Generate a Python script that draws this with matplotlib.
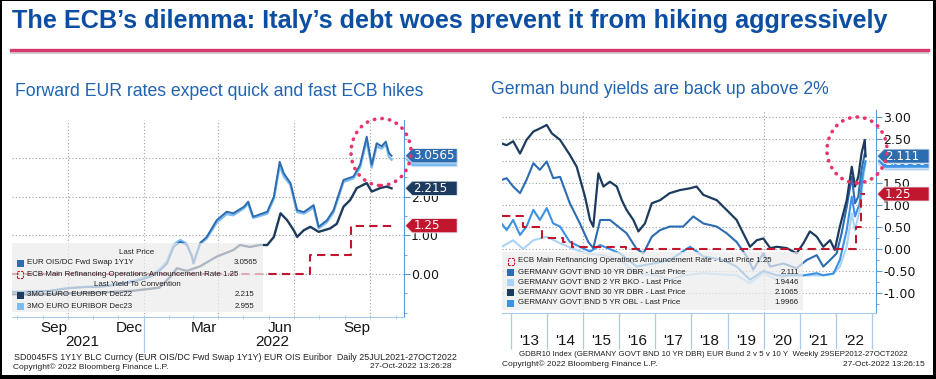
import numpy as np
import matplotlib
matplotlib.use('Agg')
import matplotlib.pyplot as plt
import matplotlib.dates as mdates
from matplotlib import font_manager as fm
from matplotlib.patches import Polygon, Rectangle, Ellipse
from matplotlib.lines import Line2D
from matplotlib.transforms import blended_transform_factory
from matplotlib.ticker import FixedLocator, FixedFormatter, MultipleLocator, FormatStrFormatter, NullFormatter


def pick(names):
    for n in names:
        try:
            fm.findfont(fm.FontProperties(family=n), fallback_to_default=False)
            return n
        except Exception:
            pass
    return 'DejaVu Sans'


NARROW = pick(['Liberation Sans Narrow', 'Liberation Sans'])
ARIAL = pick(['Liberation Sans', 'DejaVu Sans'])
SMALL = ARIAL

W, H = 937, 379

# ---- left chart data (daily, 25JUL2021-27OCT2022) ----
ois_dates = ['2021-07-26', '2021-08-21', '2021-09-10', '2021-10-01', '2021-10-21', '2021-11-10',
             '2021-11-30', '2021-12-20', '2022-01-09', '2022-01-21', '2022-01-29', '2022-02-06',
             '2022-02-14', '2022-02-22', '2022-02-28', '2022-03-02', '2022-03-10', '2022-03-18',
             '2022-03-30', '2022-04-11', '2022-04-19', '2022-05-02', '2022-05-07', '2022-05-13',
             '2022-05-30', '2022-06-07', '2022-06-14', '2022-06-19', '2022-06-27', '2022-07-05',
             '2022-07-13', '2022-07-25', '2022-07-31', '2022-08-10', '2022-08-18', '2022-08-30',
             '2022-09-11', '2022-09-19', '2022-09-27', '2022-10-03', '2022-10-09', '2022-10-15',
             '2022-10-20', '2022-10-24', '2022-10-27']
ois_1y1y = [-0.46, -0.45, -0.43, -0.37, -0.34, -0.33, -0.28, -0.20, -0.07, 0.10, 0.27, 0.70,
            0.83, 0.75, 0.45, 0.27, 0.80, 0.96, 1.39, 1.61, 1.57, 1.74, 1.87, 1.48,
            1.61, 2.00, 2.90, 2.60, 2.35, 1.65, 1.60, 1.78, 1.22, 1.39, 1.65, 2.43,
            2.52, 2.82, 3.55, 2.82, 3.38, 3.30, 3.42, 3.12, 3.0565]
euribor_dec23 = [-0.47, -0.46, -0.44, -0.36, -0.33, -0.31, -0.26, -0.17, -0.04, 0.14, 0.33, 0.76,
                 0.88, 0.78, 0.48, 0.30, 0.78, 0.92, 1.33, 1.55, 1.52, 1.70, 1.82, 1.45,
                 1.56, 1.95, 2.80, 2.52, 2.30, 1.60, 1.56, 1.72, 1.18, 1.34, 1.60, 2.38,
                 2.47, 2.76, 3.45, 2.75, 3.30, 3.24, 3.35, 3.02, 2.955]
dec22_dates = ['2021-07-26', '2021-08-21', '2021-10-01', '2021-11-10', '2021-12-20', '2022-01-09',
               '2022-01-20', '2022-02-03', '2022-02-10', '2022-02-22', '2022-03-10', '2022-03-30',
               '2022-04-19', '2022-04-27', '2022-05-09', '2022-05-21', '2022-05-30', '2022-06-07',
               '2022-06-15', '2022-06-23', '2022-07-01', '2022-07-05', '2022-07-13', '2022-07-21',
               '2022-07-31', '2022-08-14', '2022-08-22', '2022-08-30', '2022-09-07', '2022-09-15',
               '2022-09-27', '2022-10-03', '2022-10-13', '2022-10-21', '2022-10-27']
euribor_dec22 = [-0.52, -0.53, -0.50, -0.48, -0.43, -0.38, -0.35, -0.05, 0.15, 0.08, 0.20, 0.45,
                 0.62, 0.75, 0.70, 0.75, 0.75, 0.96, 1.57, 1.39, 1.13, 0.96, 1.13, 1.22,
                 1.09, 1.18, 1.30, 1.74, 1.91, 2.22, 2.35, 2.13, 2.22, 2.26, 2.215]
ecb_left_dates = ['2021-07-25', '2022-07-21', '2022-09-08', '2022-10-27']
ecb_left = [0.00, 0.50, 1.25, 1.25]
left_month_labels = ['Sep', 'Dec', 'Mar', 'Jun', 'Sep']
left_month_pos = ['2021-09-15', '2021-12-15', '2022-03-15', '2022-06-15', '2022-09-15']
left_quarter_grid = ['2021-10-01', '2022-01-01', '2022-04-01', '2022-07-01', '2022-10-01']

# ---- right chart data (weekly, 29SEP2012-27OCT2022), decimal years ----
t30 = [2012.74, 2012.88, 2013.06, 2013.25, 2013.43, 2013.62, 2013.80, 2013.99, 2014.13, 2014.36,
       2014.63, 2014.82, 2015.05, 2015.19, 2015.28, 2015.42, 2015.56, 2015.74, 2015.93, 2016.07,
       2016.20, 2016.39, 2016.53, 2016.71, 2016.90, 2017.13, 2017.40, 2017.68, 2017.96, 2018.14,
       2018.33, 2018.70, 2018.97, 2019.25, 2019.53, 2019.62, 2019.81, 2019.99, 2020.18, 2020.37,
       2020.64, 2020.91, 2021.10, 2021.28, 2021.47, 2021.65, 2021.84, 2021.97, 2022.11, 2022.30,
       2022.44, 2022.53, 2022.62, 2022.71, 2022.80, 2022.82]
dbr30 = [2.40, 2.36, 2.45, 2.17, 2.48, 2.67, 2.74, 2.82, 2.63, 2.48,
         2.14, 1.87, 1.19, 0.66, 0.51, 1.72, 1.42, 1.53, 1.42, 1.11,
         0.89, 0.66, 0.40, 0.58, 1.04, 1.11, 1.27, 1.34, 1.38, 1.42,
         1.23, 1.11, 0.89, 0.66, 0.20, 0.05, 0.20, 0.24, 0.02, 0.05,
         0.02, -0.10, 0.13, 0.40, 0.28, 0.05, 0.20, -0.02, 0.51, 1.11,
         1.87, 1.42, 1.64, 2.17, 2.48, 2.1065]
t10 = [2012.74, 2012.88, 2013.06, 2013.25, 2013.43, 2013.62, 2013.80, 2013.99, 2014.17, 2014.36,
       2014.63, 2014.91, 2015.14, 2015.28, 2015.47, 2015.74, 2015.97, 2016.20, 2016.48, 2016.67,
       2016.90, 2017.13, 2017.40, 2017.77, 2018.05, 2018.33, 2018.70, 2018.97, 2019.25, 2019.53,
       2019.71, 2019.99, 2020.18, 2020.55, 2020.91, 2021.19, 2021.47, 2021.65, 2021.84, 2022.02,
       2022.16, 2022.30, 2022.44, 2022.53, 2022.62, 2022.71, 2022.80, 2022.82]
dbr10 = [1.57, 1.61, 1.42, 1.27, 1.57, 1.95, 1.80, 1.99, 1.61, 1.64,
         1.04, 0.58, 0.16, 0.02, 0.66, 0.66, 0.51, 0.36, 0.00, -0.10,
         0.28, 0.43, 0.51, 0.51, 0.74, 0.58, 0.51, 0.36, 0.16, -0.17,
         -0.47, -0.10, -0.40, -0.33, -0.44, -0.25, -0.14, -0.40, -0.25, -0.10,
         0.36, 0.96, 1.64, 1.04, 1.19, 1.80, 2.17, 2.111]
t5 = [2012.74, 2012.88, 2013.06, 2013.25, 2013.43, 2013.62, 2013.80, 2013.99, 2014.17, 2014.36,
      2014.63, 2014.91, 2015.19, 2015.47, 2016.02, 2016.48, 2016.94, 2017.40, 2017.96, 2018.33,
      2018.88, 2019.25, 2019.62, 2019.99, 2020.37, 2020.73, 2021.10, 2021.47, 2021.65, 2021.93,
      2022.11, 2022.30, 2022.44, 2022.53, 2022.66, 2022.75, 2022.82]
obl5 = [0.58, 0.43, 0.66, 0.32, 0.51, 0.89, 0.66, 0.93, 0.58, 0.51,
        0.16, 0.05, -0.06, 0.09, -0.10, -0.40, -0.33, -0.25, 0.05, -0.17,
        -0.25, -0.40, -0.70, -0.50, -0.60, -0.60, -0.60, -0.55, -0.60, -0.56,
        -0.25, 0.43, 1.19, 0.74, 1.04, 1.72, 1.9966]
t2 = [2012.74, 2013.06, 2013.34, 2013.62, 2013.99, 2014.36, 2014.73, 2015.10, 2015.56, 2016.02,
      2016.48, 2017.03, 2017.40, 2017.77, 2018.33, 2018.88, 2019.25, 2019.62, 2019.99, 2020.37,
      2020.73, 2021.10, 2021.56, 2021.93, 2022.11, 2022.30, 2022.44, 2022.53, 2022.66, 2022.75,
      2022.82]
bko2 = [0.05, 0.20, 0.00, 0.20, 0.28, 0.13, 0.00, -0.10, -0.14, -0.25,
        -0.55, -0.60, -0.70, -0.60, -0.55, -0.58, -0.60, -0.78, -0.55, -0.70,
        -0.58, -0.60, -0.60, -0.56, -0.40, 0.05, 0.81, 0.43, 0.89, 1.57,
        1.9446]
t_ecb = [2012.74, 2013.34, 2013.85, 2014.43, 2014.68, 2016.19, 2022.55, 2022.69, 2022.82]
ecb_right = [0.75, 0.50, 0.25, 0.15, 0.05, 0.00, 0.50, 1.25, 1.25]
right_year_labels = ["'13", "'14", "'15", "'16", "'17", "'18", "'19", "'20", "'21", "'22"]

# colours
NAVY = '#1c3b5e'
MID = '#2c6cb0'
BRIGHT = '#3b92e4'
LIGHT = '#7cbcf0'
PALE = '#aad3f6'
RED = '#c0172f'
PINK = '#e8336b'
AXBLUE = '#5b9bd5'
SEP = '#a9cbeb'
GRID = '#a0a0a0'
TITLE_BLUE = '#0b4ea2'
SUB_BLUE = '#1f63b3'


def fx(x):
    return x / W


def fy(y):
    return 1 - y / H


fig = plt.figure(figsize=(W / 100, H / 100), dpi=100)
fig.patch.set_facecolor('white')
renderer = fig.canvas.get_renderer()


def fit(t, target):
    # scale the font so the text spans the same width as in the reference
    for _ in range(2):
        w = t.get_window_extent(renderer).width
        t.set_fontsize(t.get_fontsize() * target / w)
    return t


# title and rule
title = fig.text(fx(12), fy(21), "The ECB\u2019s dilemma: Italy\u2019s debt woes prevent it from hiking aggressively",
                 family=NARROW, weight='bold', fontsize=18, color=TITLE_BLUE, va='center', ha='left')
fit(title, 874)
fig.add_artist(Line2D([fx(11), fx(928)], [fy(52.5), fy(52.5)], color='#cfcfcf', lw=1.5))
fig.add_artist(Line2D([fx(11), fx(928)], [fy(50), fy(50)], color='#d6396c', lw=2.4))

fit(fig.text(fx(15), fy(91), 'Forward EUR rates expect quick and fast ECB hikes', family=ARIAL,
             fontsize=12.5, color=SUB_BLUE, va='center', ha='left'), 407)
fit(fig.text(fx(491), fy(90), 'German bund yields are back up above 2%', family=ARIAL,
             fontsize=12.5, color=SUB_BLUE, va='center', ha='left'), 337)


def style_axis(ax):
    for s in ['left', 'top']:
        ax.spines[s].set_visible(False)
    ax.spines['right'].set_color(AXBLUE)
    ax.spines['bottom'].set_color(SEP)
    ax.yaxis.tick_right()
    ax.tick_params(axis='y', which='major', colors=AXBLUE, labelcolor='#151515', length=4,
                   labelsize=9, pad=1)
    ax.tick_params(axis='y', which='minor', colors=AXBLUE, length=2)
    ax.yaxis.set_major_formatter(FormatStrFormatter('%.2f'))
    ax.set_facecolor('none')


def tag(ax, yval, text, color, height, z, width_px=52, axw_px=392):
    tr = blended_transform_factory(ax.transAxes, ax.transData)
    w = width_px / axw_px
    tip = 7 / axw_px
    h = height / 2
    pts = [(1.003, yval), (1.003 + tip, yval + h), (1.003 + w, yval + h),
           (1.003 + w, yval - h), (1.003 + tip, yval - h)]
    ax.add_patch(Polygon(pts, closed=True, facecolor=color, edgecolor='#e8eef5', lw=0.6,
                         transform=tr, clip_on=False, zorder=z))
    ax.text(1.003 + tip + 1 / axw_px, yval, text, transform=tr, color='white', fontsize=8.6,
            family='DejaVu Sans', va='center', ha='left', zorder=z + 0.5, clip_on=False)


# ---------------- left chart ----------------
ax1 = fig.add_axes([fx(12), fy(317), 392 / W, 197 / H])
style_axis(ax1)
d_ois = np.array(ois_dates, dtype='datetime64[D]')
d_dec22 = np.array(dec22_dates, dtype='datetime64[D]')
d_ecb = np.array(ecb_left_dates, dtype='datetime64[D]')
ax1.set_xlim(np.datetime64('2021-07-26'), np.datetime64('2022-11-11'))
ax1.set_ylim(-1.11, 3.98)
ax1.yaxis.set_major_locator(FixedLocator([0, 1, 2, 3]))
ax1.yaxis.set_minor_locator(MultipleLocator(0.5))
ax1.yaxis.grid(True, which='major', ls=(0, (1, 2)), color=GRID, lw=0.8)
for d in left_quarter_grid:
    ax1.axvline(np.datetime64(d), ls=(0, (1, 2)), color=GRID, lw=0.8, zorder=0)

ax1.plot(d_dec22, euribor_dec22, color=NAVY, lw=1.7, zorder=3)
ax1.plot(d_ois, euribor_dec23, color=LIGHT, lw=1.7, zorder=3)
ax1.plot(d_ois, ois_1y1y, color=MID, lw=1.4, zorder=4)
ax1.plot(d_ecb, ecb_left, color=RED, lw=1.5, ls=(0, (4, 2.5)), drawstyle='steps-post', zorder=5)

ax1.xaxis.set_major_locator(FixedLocator(mdates.date2num(np.array(left_month_pos, dtype='datetime64[D]'))))
ax1.xaxis.set_major_formatter(FixedFormatter(left_month_labels))
ax1.xaxis.set_minor_locator(mdates.MonthLocator())
ax1.xaxis.set_minor_formatter(NullFormatter())
ax1.tick_params(axis='x', which='major', length=0, labelsize=11, labelcolor='#151515', pad=3,
                labelfontfamily=ARIAL)
ax1.tick_params(axis='x', which='minor', length=3, direction='inout', colors=SEP)

tr1 = blended_transform_factory(ax1.transData, ax1.transAxes)
ax1.text(np.datetime64('2021-10-19'), -0.127, '2021', transform=tr1, fontsize=11, family=ARIAL,
         ha='center', va='center', color='#151515')
ax1.text(np.datetime64('2022-06-05'), -0.127, '2022', transform=tr1, fontsize=11, family=ARIAL,
         ha='center', va='center', color='#151515')
ax1.plot([np.datetime64('2022-01-01')] * 2, [0, -0.18], transform=tr1, color=SEP, lw=0.9,
         clip_on=False)

tag(ax1, 2.955, '2.955', LIGHT, 0.37, 10)
tag(ax1, 3.0565, '3.0565', MID, 0.37, 11)
tag(ax1, 2.215, '2.215', NAVY, 0.37, 12)
tag(ax1, 1.25, '1.25', RED, 0.37, 13)

# left legend (manual, Bloomberg style)
LEG_FS = 5.7
fig.add_artist(Rectangle((fx(12), fy(312)), 251 / W, 69 / H, transform=fig.transFigure,
                         facecolor='#ececec', alpha=0.7, edgecolor='none', zorder=5))
lg = dict(family=SMALL, fontsize=LEG_FS, color='#202020', va='center', zorder=6)
fig.text(fx(137), fy(253), 'Last Price', ha='center', **lg)
fig.text(fx(137), fy(285), 'Last Yield To Convention', ha='center', **lg)
left_rows = [(263, MID, 'EUR OIS/DC Fwd Swap 1Y1Y', '3.0565', 258),
             (274, None, 'ECB Main Refinancing Operations Announcement Rate 1.25', '', 249),
             (295, NAVY, '3MO EURO EURIBOR Dec22', '2.215', 254),
             (306, LIGHT, '3MO EURO EURIBOR Dec23', '2.955', 254)]
for y, c, name, val, vx in left_rows:
    if c is None:
        fig.add_artist(Rectangle((fx(17), fy(y + 3.5)), 6 / W, 7 / H, transform=fig.transFigure,
                                 facecolor='none', edgecolor=RED, lw=0.8, ls=(0, (2, 1)), zorder=6))
    else:
        fig.add_artist(Rectangle((fx(17), fy(y + 3.5)), 7 / W, 7 / H, transform=fig.transFigure,
                                 facecolor=c, edgecolor='none', zorder=6))
    fig.text(fx(27), fy(y), name, ha='left', **lg)
    if val:
        fig.text(fx(vx), fy(y), val, ha='right', **lg)

fig.add_artist(Ellipse((fx(381), fy(152)), 60 / W, 67 / H, transform=fig.transFigure,
                       facecolor='none', edgecolor=PINK, lw=2.6, ls=(0, (0.1, 2.0)),
                       capstyle='round', zorder=12))

# ---------------- right chart ----------------
ax2 = fig.add_axes([fx(502), fy(313), 374 / W, 203 / H])
style_axis(ax2)
ax2.set_xlim(2012.751, 2023.111)
ax2.set_ylim(-1.455, 3.16)
ax2.yaxis.set_major_locator(MultipleLocator(0.5))
ax2.yaxis.set_minor_locator(MultipleLocator(0.25))
ax2.yaxis.grid(True, which='major', ls=(0, (1, 2)), color=GRID, lw=0.8)
for yr in [2015, 2020]:
    ax2.axvline(yr, ls=(0, (1, 2)), color=GRID, lw=0.8, zorder=0)

ax2.plot(t2, bko2, color=PALE, lw=1.5, zorder=3)
ax2.plot(t5, obl5, color=BRIGHT, lw=1.5, zorder=3)
ax2.plot(t10, dbr10, color=MID, lw=1.5, zorder=3)
ax2.plot(t30, dbr30, color=NAVY, lw=1.6, zorder=3)
ax2.plot(t_ecb, ecb_right, color=RED, lw=1.5, ls=(0, (4, 2.5)), drawstyle='steps-post', zorder=5)

ax2.xaxis.set_major_locator(FixedLocator(np.arange(2013, 2023) + 0.5))
ax2.xaxis.set_major_formatter(FixedFormatter(right_year_labels))
ax2.xaxis.set_minor_locator(FixedLocator(np.arange(2013, 2024)))
ax2.tick_params(axis='x', which='major', length=0, labelsize=11, labelcolor='#151515', pad=15,
                labelfontfamily=ARIAL)
ax2.tick_params(axis='x', which='minor', length=26, direction='out', colors=SEP, width=0.9)

tag(ax2, 1.9446, '1.9446', PALE, 0.32, 10, axw_px=374)
tag(ax2, 1.9966, '1.9966', BRIGHT, 0.32, 11, axw_px=374)
tag(ax2, 2.1065, '2.1065', NAVY, 0.32, 12, axw_px=374)
tag(ax2, 2.111, '2.111', MID, 0.32, 13, axw_px=374)
tag(ax2, 1.25, '1.25', RED, 0.32, 14, axw_px=374)

# right legend
fig.add_artist(Rectangle((fx(502), fy(310)), 301 / W, 58 / H, transform=fig.transFigure,
                         facecolor='#ececec', alpha=0.7, edgecolor='none', zorder=5))
right_rows = [(261, None, 'ECB Main Refinancing Operations Announcement Rate - Last Price 1.25', ''),
              (272, MID, 'GERMANY GOVT BND 10 YR DBR - Last Price', '2.111'),
              (282, PALE, 'GERMANY GOVT BND 2 YR BKO - Last Price', '1.9446'),
              (292, NAVY, 'GERMANY GOVT BND 30 YR DBR - Last Price', '2.1065'),
              (303, BRIGHT, 'GERMANY GOVT BND 5 YR OBL - Last Price', '1.9966')]
for y, c, name, val in right_rows:
    if c is None:
        fig.add_artist(Rectangle((fx(508), fy(y + 3.5)), 6 / W, 7 / H, transform=fig.transFigure,
                                 facecolor='none', edgecolor=RED, lw=0.8, ls=(0, (2, 1)), zorder=6))
    else:
        fig.add_artist(Rectangle((fx(507), fy(y + 3.5)), 7 / W, 7 / H, transform=fig.transFigure,
                                 facecolor=c, edgecolor='none', zorder=6))
    fig.text(fx(518), fy(y), name, ha='left', **lg)
    if val:
        fig.text(fx(799), fy(y), val, ha='right', **lg)

fig.add_artist(Ellipse((fx(857), fy(150)), 60 / W, 66 / H, transform=fig.transFigure,
                       facecolor='none', edgecolor=PINK, lw=2.6, ls=(0, (0.1, 2.0)),
                       capstyle='round', zorder=12))

# footers
ft = dict(family=SMALL, fontsize=6.0, color='#202020', va='center')
fit(fig.text(fx(14), fy(358), 'SD0045FS 1Y1Y BLC Curncy (EUR OIS/DC Fwd Swap 1Y1Y) EUR OIS Euribor  Daily 25JUL2021-27OCT2022',
             ha='left', **ft), 438)
fig.text(fx(13), fy(367), 'Copyright\u00a9 2022 Bloomberg Finance L.P.', ha='left', **ft)
fig.text(fx(452), fy(367), '27-Oct-2022 13:26:28', ha='right', **ft)
fit(fig.text(fx(908), fy(355), 'GDBR10 Index (GERMANY GOVT BND 10 YR DBR) EUR Bund 2 v 5 v 10 Y  Weekly 29SEP2012-27OCT2022',
             ha='right', **ft), 389)
fig.text(fx(502), fy(364), 'Copyright\u00a9 2022 Bloomberg Finance L.P.', ha='left', **ft)
fig.text(fx(925), fy(364), '27-Oct-2022 13:26:15', ha='right', **ft)

# outer frame
for x0, y0, w, h in [(0, 0, 2.5, H), (0, 0, W, 1), (933, 0, 4, H), (0, 375, W, 4)]:
    fig.add_artist(Rectangle((fx(x0), fy(y0 + h)), w / W, h / H, transform=fig.transFigure,
                             facecolor='black', edgecolor='none', zorder=20))

fig.savefig('out.png', dpi=100)
